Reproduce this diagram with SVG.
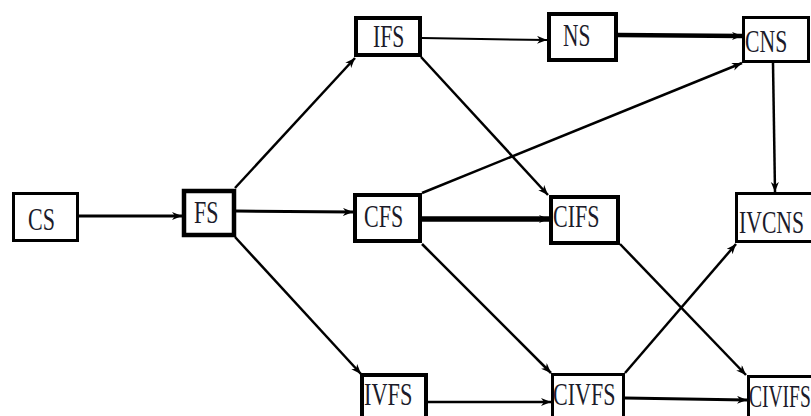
<svg xmlns="http://www.w3.org/2000/svg" width="811" height="416" viewBox="0 0 811 416">
<style>
.box{fill:#fff;stroke:#000}
.t{font-family:"Liberation Serif","Times New Roman",serif;font-size:31px;fill:#1b1b2a}
.c{fill:none;stroke:#000;stroke-linecap:butt}
</style>
<defs>
<marker id="ah" markerUnits="userSpaceOnUse" markerWidth="12" markerHeight="10" refX="10" refY="4" orient="auto">
<path d="M0,0 L10,4 L0,8 L3,4 z" fill="#000"/>
</marker>
</defs>
<rect width="811" height="416" fill="#fff"/>
<g id="connectors">
<line class="c" x1="79" y1="216" x2="182" y2="216" stroke-width="3" marker-end="url(#ah)"/>
<line class="c" x1="235" y1="188" x2="355" y2="58" stroke-width="2.5" marker-end="url(#ah)"/>
<line class="c" x1="236" y1="211" x2="353" y2="212" stroke-width="3" marker-end="url(#ah)"/>
<line class="c" x1="235" y1="237" x2="361" y2="374" stroke-width="2.5" marker-end="url(#ah)"/>
<line class="c" x1="422" y1="38" x2="547" y2="40" stroke-width="2" marker-end="url(#ah)"/>
<line class="c" x1="618" y1="35" x2="742" y2="36" stroke-width="4.5" marker-end="url(#ah)"/>
<line class="c" x1="421" y1="57" x2="548" y2="195" stroke-width="2.5" marker-end="url(#ah)"/>
<line class="c" x1="422" y1="193" x2="742" y2="63" stroke-width="2.5" marker-end="url(#ah)"/>
<line class="c" x1="422" y1="219" x2="549" y2="219" stroke-width="5.5" marker-end="url(#ah)"/>
<line class="c" x1="422" y1="244" x2="551" y2="373" stroke-width="2.5" marker-end="url(#ah)"/>
<line class="c" x1="773" y1="63" x2="775" y2="192" stroke-width="2.5" marker-end="url(#ah)"/>
<line class="c" x1="620" y1="244" x2="746" y2="375" stroke-width="2.5" marker-end="url(#ah)"/>
<line class="c" x1="625" y1="373" x2="736" y2="244" stroke-width="2.5" marker-end="url(#ah)"/>
<line class="c" x1="428" y1="402" x2="551" y2="402" stroke-width="2.5" marker-end="url(#ah)"/>
<line class="c" x1="625" y1="398" x2="747" y2="400" stroke-width="3" marker-end="url(#ah)"/>
</g>
<g id="CS"><rect class="box" x="13.5" y="193.5" width="64" height="47" stroke-width="3"/><text class="t" transform="translate(28,230) scale(0.71,1)">CS</text></g>
<g id="FS"><rect class="box" x="184" y="191" width="50" height="44" stroke-width="4.5"/><text class="t" transform="translate(194,223) scale(0.71,1)">FS</text></g>
<g id="IFS"><rect class="box" x="356" y="18" width="64" height="37" stroke-width="4"/><text class="t" transform="translate(373,47) scale(0.7,1)">IFS</text></g>
<g id="NS"><rect class="box" x="549" y="14" width="67" height="46" stroke-width="4"/><text class="t" transform="translate(563,46) scale(0.69,1)">NS</text></g>
<g id="CNS"><rect class="box" x="743.5" y="17.5" width="65" height="44" stroke-width="3"/><text class="t" transform="translate(745,52) scale(0.7,1)">CNS</text></g>
<g id="CFS"><rect class="box" x="355" y="195" width="65" height="46" stroke-width="4"/><text class="t" transform="translate(364,227) scale(0.71,1)">CFS</text></g>
<g id="CIFS"><rect class="box" x="551" y="197" width="67" height="46" stroke-width="4"/><text class="t" transform="translate(553,227) scale(0.71,1)">CIFS</text></g>
<g id="IVCNS"><rect class="box" x="736.5" y="193.5" width="80" height="48" stroke-width="3"/><text class="t" transform="translate(739,233) scale(0.7,1)">IVCNS</text></g>
<g id="IVFS"><rect class="box" x="362" y="375" width="64" height="50" stroke-width="4"/><text class="t" transform="translate(364,405) scale(0.72,1)">IVFS</text></g>
<g id="CIVFS"><rect class="box" x="552.5" y="374.5" width="71" height="50" stroke-width="3"/><text class="t" transform="translate(553,405) scale(0.71,1)">CIVFS</text></g>
<g id="CIVIFS"><rect class="box" x="748.5" y="376.5" width="80" height="50" stroke-width="3"/><text class="t" transform="translate(749,407) scale(0.63,1)">CIVIFS</text></g>
</svg>
